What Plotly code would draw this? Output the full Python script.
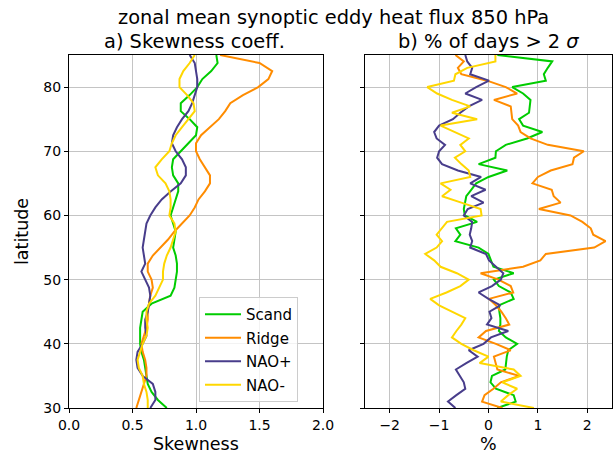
import plotly.graph_objects as go

# latitudes (left panel smoothed profiles, right panel raw)
lat_a = [30, 31.25, 32.5, 33.75, 35, 36.25, 37.5, 38.75, 40, 41.25, 42.5, 43.75,
         45, 46.25, 47.5, 48.75, 50, 51.25, 52.5, 53.75, 55, 56.25, 57.5, 58.75,
         60, 61.25, 62.5, 63.75, 65, 66.25, 67.5, 68.75, 70, 71.25, 72.5, 73.75,
         75, 76.25, 77.5, 78.75, 80, 81.25, 82.5, 83.75, 85]
lat_b = list(range(30, 86))

# a) skewness coefficient
skew_scand = [0.77, 0.70, 0.65, 0.62, 0.61, 0.60, 0.59, 0.57, 0.56, 0.56, 0.56, 0.57,
              0.58, 0.65, 0.80, 0.83, 0.84, 0.85, 0.85, 0.84, 0.82, 0.83, 0.84, 0.82,
              0.80, 0.82, 0.84, 0.86, 0.86, 0.82, 0.81, 0.82, 0.88, 0.94, 1.00, 1.01,
              0.95, 0.88, 0.88, 0.95, 1.01, 1.05, 1.12, 1.17, 1.16]
skew_ridge = [0.53, 0.55, 0.57, 0.59, 0.61, 0.61, 0.60, 0.58, 0.57, 0.59, 0.61, 0.62,
              0.62, 0.63, 0.64, 0.66, 0.65, 0.62, 0.62, 0.66, 0.72, 0.78, 0.83, 0.89,
              0.95, 0.99, 1.02, 1.07, 1.11, 1.11, 1.07, 1.03, 1.00, 1.00, 1.04, 1.11,
              1.18, 1.23, 1.27, 1.37, 1.49, 1.57, 1.60, 1.50, 1.19]
skew_naop = [0.64, 0.68, 0.68, 0.66, 0.58, 0.54, 0.53, 0.54, 0.58, 0.61, 0.60, 0.60,
             0.62, 0.63, 0.64, 0.63, 0.60, 0.57, 0.60, 0.59, 0.58, 0.59, 0.60, 0.61,
             0.64, 0.68, 0.73, 0.80, 0.88, 0.92, 0.92, 0.89, 0.84, 0.81, 0.82, 0.85,
             0.89, 0.94, 0.97, 0.99, 1.01, 1.01, 1.00, 0.99, 0.95]
skew_naom = [0.62, 0.62, 0.61, 0.59, 0.58, 0.55, 0.54, 0.56, 0.58, 0.61, 0.62, 0.61,
             0.61, 0.63, 0.68, 0.71, 0.74, 0.74, 0.75, 0.77, 0.80, 0.82, 0.84, 0.83,
             0.79, 0.80, 0.80, 0.79, 0.76, 0.70, 0.68, 0.73, 0.79, 0.81, 0.84, 0.89,
             0.94, 0.99, 0.98, 0.93, 0.87, 0.87, 0.90, 0.95, 0.99]

# b) % of days > 2 sigma (anomaly)
pct_scand = [0.18, 0.55, 0.51, 0.15, 0.04, 0.07, 0.34, 0.35, 0.37, 0.40, 0.58, 0.35,
             0.21, 0.24, 0.24, 0.22, 0.21, 0.51, 0.45, 0.21, 0.11, 0.51, 0.10, 0.05,
             0.00, -0.20, -0.67, -0.57, -0.66, -0.23, -0.48, -0.50, -0.47, -0.45, -0.35, -0.25,
             0.00, 0.38, -0.20, 0.14, 0.15, 0.35, 0.78, 1.09, 0.70, 0.62, 0.82, 0.84,
             0.85, 0.70, 0.48, 1.16, 1.12, 1.20, 1.29, 0.18]
pct_ridge = [0.28, -0.13, -0.08, 0.10, 0.25, 0.62, 0.18, 0.14, 0.11, 0.45, 0.15, -0.20,
             -0.05, 0.42, 0.35, 0.26, 0.15, 0.01, 0.50, 0.45, 0.20, -0.16, 0.70, 1.05,
             1.16, 2.14, 2.37, 2.12, 2.07, 1.90, 1.66, 1.02, 1.46, 1.32, 1.28, 0.89,
             1.00, 1.26, 1.70, 1.73, 1.93, 1.20, 0.85, 0.65, 0.60, 0.48, 0.47, 0.45,
             0.11, 0.58, 0.35, -0.03, -0.55, -0.62, -0.50, -0.67]
pct_naop = [-0.67, -0.82, -0.65, -0.47, -0.50, -0.58, -0.66, -0.45, -0.22, -0.40, -0.10, 0.05,
            0.40, -0.03, 0.06, 0.02, 0.24, 0.00, -0.20, 0.07, 0.25, 0.30, 0.15, 0.01,
            -0.05, -0.37, -0.33, -0.38, -0.35, -0.33, -0.50, -0.42, -0.10, -0.35, -0.06, -0.37,
            -0.15, -0.62, -0.94, -1.04, -1.00, -0.88, -1.05, -1.10, -1.00, -0.72, -0.57, -0.40,
            -0.13, -0.47, -0.25, 0.01, -0.37, -0.33, -0.43, -0.47]
pct_naom = [0.92, 0.25, 0.40, 0.58, 0.28, 0.65, 0.51, -0.18, 0.00, -0.30, -0.55, -0.74,
            -0.65, -0.55, -0.47, -0.75, -1.00, -1.18, -0.85, -0.57, -0.40, -0.64, -0.97, -1.10,
            -1.28, -1.05, -0.94, -1.05, -0.95, -0.84, -0.14, -0.16, -0.55, -0.94, -0.77, -0.97,
            -0.37, -0.40, -0.55, -0.68, -0.47, -0.57, -0.40, -0.70, -0.97, -0.23, -0.74, -0.37,
            -0.74, -1.04, -1.24, -0.70, -0.67, -0.43, 0.14, 0.14]

names = ["Scand", "Ridge", "NAO+", "NAO-"]
colors = ["#00cc00", "#ff8c00", "#483d8b", "#ffd700"]
skew = [skew_scand, skew_ridge, skew_naop, skew_naom]
pct = [pct_scand, pct_ridge, pct_naop, pct_naom]

FONT = "DejaVu Sans"
W, H = 614, 453

fig = go.Figure()
for name, col, s in zip(names, colors, skew):
    fig.add_trace(go.Scatter(x=s, y=lat_a, name=name, mode="lines", legendgroup=name,
                             line=dict(color=col, width=2),
                             xaxis="x", yaxis="y"))
for name, col, p in zip(names, colors, pct):
    fig.add_trace(go.Scatter(x=p, y=lat_b, name=name, mode="lines", legendgroup=name,
                             line=dict(color=col, width=2), showlegend=False,
                             xaxis="x2", yaxis="y2"))

axis_common = dict(showline=True, linecolor="black", linewidth=1, mirror=True,
                   ticks="outside", ticklen=4, tickcolor="black", automargin=False,
                   showgrid=True, gridcolor="#c4c4c4", gridwidth=1,
                   zeroline=False, tickfont=dict(family=FONT, size=14, color="black"))

ydom = [1 - 408 / H, 1 - 55 / H]
fig.update_layout(
    width=W, height=H,
    margin=dict(l=0, r=0, t=0, b=0),
    paper_bgcolor="white", plot_bgcolor="white",
    font=dict(family=FONT, size=14, color="black"),
    xaxis=dict(domain=[69 / W, 323 / W], range=[0, 2], tickvals=[0, 0.5, 1, 1.5, 2],
               ticktext=["0.0", "0.5", "1.0", "1.5", "2.0"], anchor="y", **axis_common),
    yaxis=dict(domain=ydom, range=[30, 85], tickvals=[30, 40, 50, 60, 70, 80],
               anchor="x", **axis_common),
    xaxis2=dict(domain=[365 / W, 612 / W], range=[-2.5, 2.5], tickvals=[-2, -1, 0, 1, 2],
                anchor="y2", **axis_common),
    yaxis2=dict(domain=ydom, range=[30, 85], tickvals=[30, 40, 50, 60, 70, 80],
                showticklabels=False, anchor="x2", **axis_common),
    legend=dict(x=199 / W, y=1 - 297 / H, xanchor="left", yanchor="top",
                bgcolor="rgba(255,255,255,0.8)", bordercolor="#cccccc", borderwidth=1,
                font=dict(family=FONT, size=15), itemwidth=36, tracegroupgap=1,
                entrywidth=62, entrywidthmode="pixels"),
    showlegend=True,
)

annots = [
    ("zonal mean synoptic eddy heat flux 850 hPa", 333, 18, 19.4, 0),
    ("a) Skewness coeff.", 195, 41, 19.4, 0),
    ("b) % of days > 2 <i>σ</i>", 488, 41, 19.4, 0),
    ("Skewness", 196, 444, 17.5, 0),
    ("%", 488, 444, 17.5, 0),
    ("latitude", 22, 232, 17.5, -90),
]
for text, px, py, size, ang in annots:
    fig.add_annotation(text=text, x=px / W, y=1 - py / H, xref="paper", yref="paper",
                       xanchor="center", yanchor="middle", showarrow=False,
                       textangle=ang, font=dict(family=FONT, size=size, color="black"))

# page body has a default 8px margin; drop it so the figure sits at the corner
fig.write_html("out.html", config={"displayModeBar": False},
               post_script="document.body.style.margin='0';document.body.style.overflow='hidden';")
